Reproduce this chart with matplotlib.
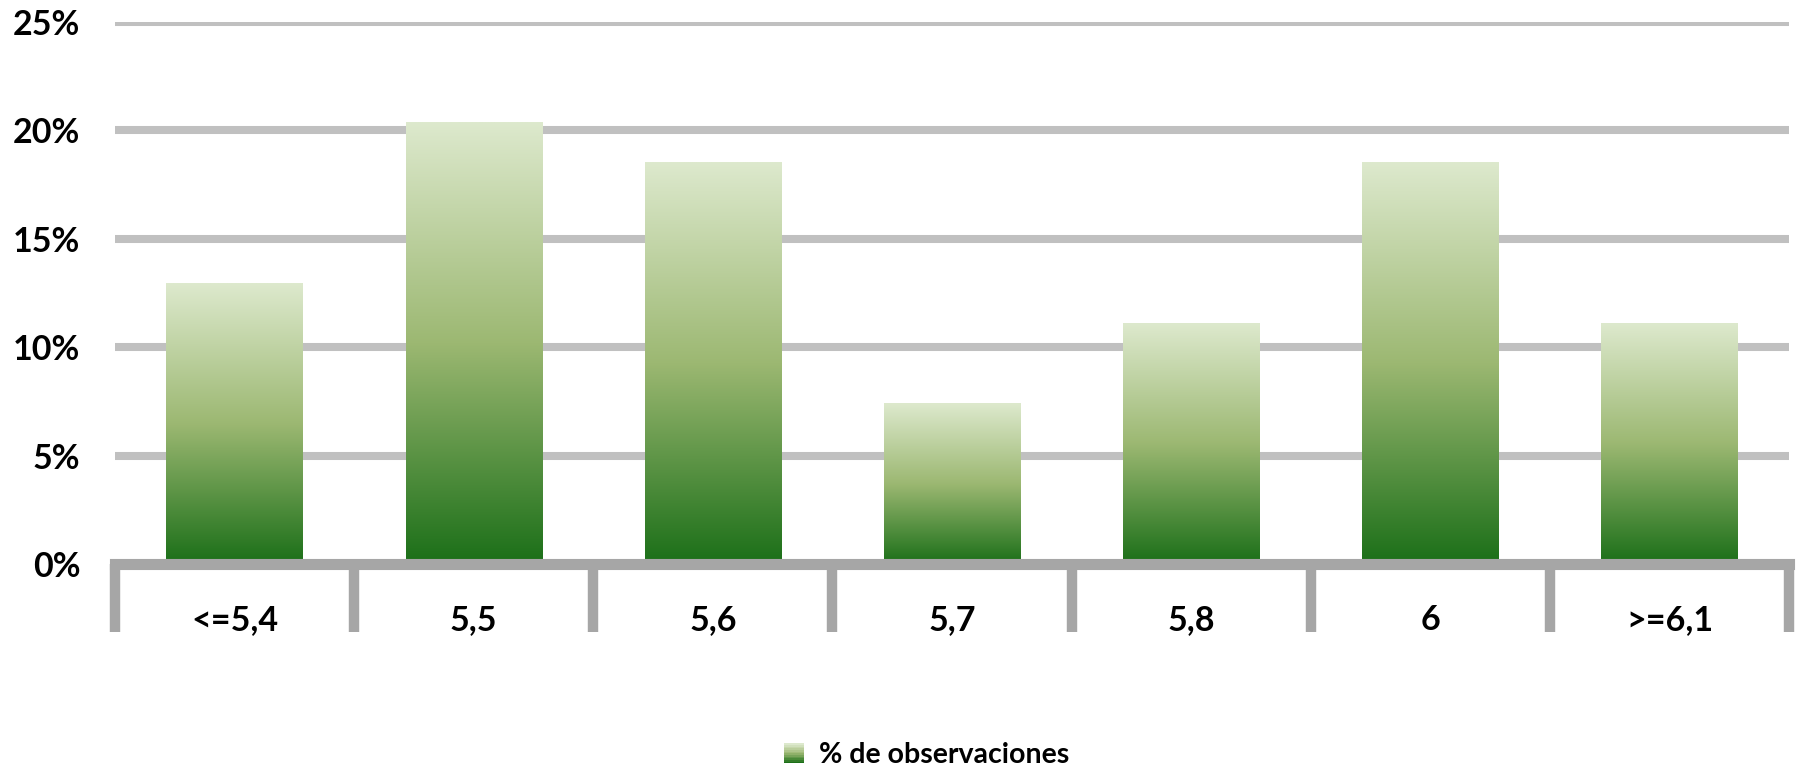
import numpy as np
import matplotlib
matplotlib.use("Agg")
import matplotlib.pyplot as plt
from matplotlib.colors import LinearSegmentedColormap
from matplotlib.patches import Rectangle
from matplotlib.legend_handler import HandlerBase
from matplotlib.ticker import PercentFormatter

# Datos del gráfico
categorias = ["<=5,4", "5,5", "5,6", "5,7", "5,8", "6", ">=6,1"]
porcentajes = [12.96, 20.37, 18.52, 7.41, 11.11, 18.52, 11.11]
serie = "% de observaciones"
yticks = [0, 5, 10, 15, 20, 25]

plt.rcParams["font.family"] = ["Lato", "DejaVu Sans"]
plt.rcParams["font.weight"] = "bold"

# Degradado verde (abajo oscuro, arriba claro)
cmap = LinearSegmentedColormap.from_list(
    "verde", [(0.0, "#1b6f18"), (0.5, "#9cb872"), (1.0, "#dde9cd")]
)
grad = np.linspace(0, 1, 256).reshape(-1, 1)

fig = plt.figure(figsize=(18, 7.66), dpi=100)
ax = fig.add_axes([0.0639, 0.2637, 0.9300, 0.7076])

x = np.arange(len(categorias))
ancho = 0.57
barras = ax.bar(x, porcentajes, width=ancho, color="none", zorder=2)
for b in barras:
    x0, y0 = b.get_x(), b.get_y()
    ax.imshow(grad, cmap=cmap, origin="lower", aspect="auto",
              extent=(x0, x0 + b.get_width(), y0, y0 + b.get_height()),
              zorder=2, interpolation="bilinear")

ax.set_xlim(-0.5, len(categorias) - 0.5)
ax.set_ylim(0, 25)
ax.set_yticks(yticks)
ax.yaxis.set_major_formatter(PercentFormatter(decimals=0))
ax.yaxis.grid(True, color="#c0c0c0", linewidth=5.8, zorder=0)
ax.set_axisbelow(True)

# Eje X: separadores entre categorías y etiquetas centradas
ax.set_xticks(np.arange(-0.5, len(categorias)), [""] * (len(categorias) + 1))
ax.set_xticks(x, categorias, minor=True)
ax.tick_params(axis="x", which="major", length=49, width=7.5,
               color="#a6a6a6", direction="out")
ax.tick_params(axis="x", which="minor", length=0, pad=29, labelsize=24.5)
ax.tick_params(axis="y", length=0, pad=25, labelsize=24.5)

for lado in ["top", "right", "left"]:
    ax.spines[lado].set_visible(False)
ax.spines["bottom"].set_color("#a6a6a6")
ax.spines["bottom"].set_linewidth(8)
ax.spines["bottom"].set_zorder(3)


# Leyenda con cuadro en degradado
class HandlerDegradado(HandlerBase):
    def create_artists(self, legend, orig_handle, xdescent, ydescent,
                       width, height, fontsize, trans):
        n = 12
        lado = height
        x0 = xdescent + width - lado
        artistas = []
        for i in range(n):
            r = Rectangle((x0, -ydescent + lado * i / n), lado, lado / n + 0.3,
                          facecolor=cmap(i / (n - 1)), edgecolor="none",
                          transform=trans)
            artistas.append(r)
        return artistas


proxy = Rectangle((0, 0), 1, 1)
fig.legend([proxy], [serie], handler_map={Rectangle: HandlerDegradado()},
           loc="center", bbox_to_anchor=(0.514, 0.014), frameon=False,
           fontsize=20.5, handlelength=0.8, handletextpad=0.55)

fig.savefig("out.png", dpi=100)
